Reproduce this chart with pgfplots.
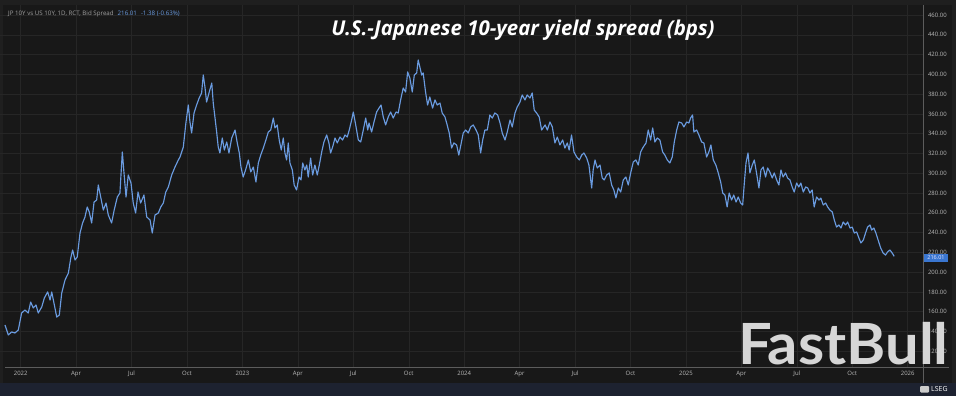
\documentclass[border=0pt]{standalone}
\usepackage{fontspec}
\setmainfont{Open Sans}
\newfontfamily\latofont{Lato}
\usepackage{pgfplots}
\pgfplotsset{compat=1.18}
\definecolor{bgouter}{HTML}{1F1F1F}
\definecolor{bgplot}{HTML}{181818}
\definecolor{gridc}{HTML}{262626}
\definecolor{linec}{HTML}{6A9BE0}
\definecolor{axisc}{HTML}{5C5C5C}
\definecolor{tickc}{HTML}{B8B8B8}
\definecolor{legc}{HTML}{A0A0A0}
\definecolor{navy}{HTML}{1D2230}
\definecolor{wmc}{HTML}{D6D6D6}
\definecolor{boxblue}{HTML}{3A76D0}
\begin{document}
\begin{tikzpicture}[x=1bp,y=1bp]
\useasboundingbox (0,0) rectangle (956,396);
\fill[bgouter] (0,0) rectangle (956,396);
\fill[bgplot] (3,13) rectangle (952,391);
\fill[navy] (0,0) rectangle (956,13);
\begin{axis}[
  at={(0bp,29bp)}, anchor=south west,
  scale only axis, width=923bp, height=362bp,
  xmin=-1.12, xmax=48.83, ymin=104.1, ymax=470.1,
  axis line style={draw=none},
  xtick={0,3,...,48},
  xticklabels={2022,Apr,Jul,Oct,2023,Apr,Jul,Oct,2024,Apr,Jul,Oct,2025,Apr,Jul,Oct,2026},
  ytick={120,140,...,460},
  yticklabel pos=right,
  /pgf/number format/.cd, fixed, fixed zerofill, precision=2, assume math mode=true, /pgfplots/.cd,
  grid=major, major grid style={gridc, line width=0.5pt},
  major tick length=0pt,
  tick label style={font=\fontsize{6}{7}\selectfont, text=tickc},
  yticklabel style={anchor=west, xshift=1.5bp},
  xticklabel style={yshift=-0.5bp},
  clip=true,
]
\addplot[linec, line width=1.15pt, line join=round] coordinates {
(-0.85,146.6)(-0.67,136.5)(-0.49,139.5)(-0.31,138.5)(-0.13,141.5)(0.05,158.7)(0.23,161.7)(0.41,158.7)
(0.54,169.8)(0.68,163.8)(0.83,166.8)(0.95,158.7)(1.14,164.8)(1.28,173.9)(1.46,180.0)(1.59,171.8)
(1.68,180.0)(1.80,168.8)(1.95,154.6)(2.09,156.7)(2.22,178.9)(2.40,192.1)(2.58,199.1)(2.71,214.3)
(2.81,222.4)(2.94,212.3)(3.06,215.3)(3.21,239.6)(3.35,249.7)(3.48,255.8)(3.60,265.9)(3.71,260.8)
(3.84,249.7)(3.97,270.9)(4.11,272.9)(4.20,288.1)(4.33,276.0)(4.47,262.8)(4.62,269.9)(4.74,257.8)
(4.92,249.7)(5.06,262.8)(5.23,276.0)(5.37,280.0)(5.50,321.5)(5.59,300.3)(5.70,276.0)(5.82,298.2)
(5.97,290.1)(6.09,269.9)(6.22,259.8)(6.35,281.0)(6.49,269.9)(6.67,278.0)(6.82,255.8)(7.00,252.7)
(7.12,239.6)(7.27,257.8)(7.45,259.8)(7.58,265.9)(7.72,269.9)(7.85,281.0)(7.99,286.1)(8.17,298.2)
(8.35,306.3)(8.53,313.4)(8.62,316.4)(8.80,326.5)(8.94,350.8)(9.07,369.0)(9.16,351.8)(9.25,340.7)
(9.38,360.9)(9.52,369.0)(9.66,376.1)(9.79,381.1)(9.88,399.3)(9.97,387.2)(10.06,372.0)(10.19,381.1)
(10.34,391.2)(10.42,371.0)(10.51,356.9)(10.61,340.7)(10.69,326.5)(10.78,320.5)(10.91,335.6)(11.02,323.5)
(11.15,331.6)(11.27,320.5)(11.42,335.6)(11.60,343.7)(11.72,330.6)(11.83,320.5)(11.92,306.3)(12.04,296.2)
(12.17,303.3)(12.32,313.4)(12.45,301.3)(12.59,306.3)(12.73,291.1)(12.86,310.4)(12.99,318.4)(13.13,325.5)
(13.27,333.6)(13.40,341.7)(13.53,343.7)(13.67,355.8)(13.76,345.8)(13.88,348.8)(13.99,333.6)(14.10,323.5)
(14.21,335.6)(14.30,320.5)(14.39,313.4)(14.48,330.6)(14.57,310.4)(14.70,303.3)(14.80,288.1)(14.93,283.1)
(15.06,296.2)(15.17,293.2)(15.26,310.4)(15.38,303.3)(15.48,308.3)(15.56,296.2)(15.69,315.4)(15.80,298.2)
(15.92,308.3)(16.05,298.2)(16.16,308.3)(16.29,321.5)(16.41,331.6)(16.56,338.7)(16.68,330.6)(16.77,320.5)
(16.88,326.5)(17.01,335.6)(17.13,330.6)(17.28,336.6)(17.42,333.6)(17.55,338.7)(17.67,336.6)(17.78,343.7)
(17.91,353.8)(18.00,361.9)(18.13,348.8)(18.27,333.6)(18.40,331.6)(18.54,343.7)(18.67,355.8)(18.78,343.7)
(18.85,350.8)(18.99,341.7)(19.12,351.8)(19.26,361.9)(19.39,365.9)(19.50,369.0)(19.62,356.9)(19.75,348.8)
(19.89,356.9)(20.02,361.9)(20.16,355.8)(20.31,361.9)(20.43,360.9)(20.56,374.1)(20.70,386.2)(20.83,382.1)
(20.94,402.4)(21.06,396.3)(21.19,382.1)(21.30,399.3)(21.43,401.4)(21.51,414.5)(21.60,407.4)(21.70,399.3)
(21.78,401.4)(21.91,382.1)(22.02,369.0)(22.14,377.1)(22.29,365.9)(22.42,374.1)(22.54,369.0)(22.69,371.0)
(22.81,360.9)(22.96,356.9)(23.08,348.8)(23.19,340.7)(23.32,325.5)(23.44,330.6)(23.59,328.6)(23.71,318.4)
(23.82,328.6)(23.95,340.7)(24.08,343.7)(24.22,340.7)(24.35,346.8)(24.49,348.8)(24.64,343.7)(24.76,338.7)
(24.89,320.5)(25.00,333.6)(25.12,343.7)(25.25,343.7)(25.39,358.9)(25.52,355.8)(25.66,360.9)(25.81,358.9)
(25.94,350.8)(26.06,340.7)(26.21,333.6)(26.33,341.7)(26.48,353.8)(26.60,346.8)(26.75,360.9)(26.87,367.0)
(27.02,372.0)(27.14,379.1)(27.29,374.1)(27.41,379.1)(27.56,376.1)(27.68,381.1)(27.79,363.9)(27.92,360.9)
(28.06,356.9)(28.19,343.7)(28.38,348.8)(28.50,343.7)(28.64,351.8)(28.77,346.8)(28.91,330.6)(29.04,336.6)
(29.18,328.6)(29.33,333.6)(29.45,325.5)(29.58,330.6)(29.68,323.5)(29.81,338.7)(29.94,321.5)(30.09,316.4)
(30.23,313.4)(30.36,318.4)(30.48,320.5)(30.63,315.4)(30.75,308.3)(30.90,285.1)(30.98,303.3)(31.08,313.4)
(31.20,305.3)(31.35,308.3)(31.47,295.2)(31.58,293.2)(31.71,298.2)(31.85,300.3)(31.98,288.1)(32.10,283.1)
(32.21,275.0)(32.34,285.1)(32.47,281.0)(32.61,293.2)(32.75,296.2)(32.88,288.1)(33.01,300.3)(33.15,311.4)
(33.29,313.4)(33.42,308.3)(33.55,321.5)(33.69,326.5)(33.84,330.6)(33.96,343.7)(34.09,333.6)(34.20,345.8)
(34.32,331.6)(34.45,335.6)(34.59,333.6)(34.74,321.5)(34.86,318.4)(34.99,313.4)(35.13,310.4)(35.26,316.4)
(35.37,331.6)(35.50,343.7)(35.62,351.8)(35.77,350.8)(35.89,346.8)(36.04,351.8)(36.16,350.8)(36.25,355.8)
(36.36,358.9)(36.43,341.7)(36.58,343.7)(36.70,338.7)(36.85,331.6)(36.97,330.6)(37.12,316.4)(37.24,321.5)
(37.35,328.6)(37.48,313.4)(37.62,308.3)(37.75,300.3)(37.88,291.1)(37.99,280.0)(38.11,278.0)(38.23,265.9)
(38.34,280.0)(38.47,272.9)(38.59,278.0)(38.71,270.9)(38.83,276.0)(38.96,269.9)(39.07,267.9)(39.16,290.1)
(39.25,310.4)(39.36,320.5)(39.46,300.3)(39.59,308.3)(39.70,313.4)(39.82,300.3)(39.95,285.1)(40.06,303.3)
(40.18,306.3)(40.31,296.2)(40.42,305.3)(40.54,301.3)(40.67,295.2)(40.78,300.3)(40.91,293.2)(41.03,288.1)
(41.14,303.3)(41.26,296.2)(41.39,300.3)(41.50,295.2)(41.63,293.2)(41.75,286.1)(41.86,281.0)(41.99,290.1)
(42.11,286.1)(42.22,290.1)(42.35,281.0)(42.48,286.1)(42.59,285.1)(42.71,280.0)(42.83,283.1)(42.94,265.9)
(43.07,276.0)(43.20,272.9)(43.30,274.9)(43.43,267.9)(43.56,269.9)(43.67,265.9)(43.79,262.8)(43.92,260.8)
(44.03,252.7)(44.15,245.6)(44.28,247.7)(44.39,244.6)(44.51,250.7)(44.64,247.7)(44.75,250.7)(44.88,244.6)
(45.00,245.6)(45.11,239.6)(45.24,240.6)(45.36,234.5)(45.47,229.5)(45.60,232.5)(45.72,239.6)(45.83,245.6)
(45.96,247.7)(46.05,242.6)(46.17,244.6)(46.28,239.6)(46.40,232.5)(46.54,224.4)(46.67,219.4)(46.80,217.3)
(46.91,220.4)(47.04,222.4)(47.16,219.4)(47.27,216.0)
};
\end{axis}
% axis lines
\draw[axisc, line width=0.6pt] (5,29) -- (949,29);
\draw[axisc, line width=0.6pt] (923,13) -- (923,391);
% price marker
\fill[boxblue] (924,134) rectangle (948,142);
\node[font=\fontsize{5.5}{6}\selectfont, text=white!90!blue, inner sep=0] at (936,138) {216.01};
% legend line
\node[anchor=west, inner sep=0, font=\fontsize{6.2}{7}\selectfont, text=legc] at (8,382)
  {JP 10Y vs US 10Y, 1D, RCT, Bid Spread\hspace{4bp}\textcolor{linec}{216.01}\hspace{4bp}\textcolor{linec}{-1.38 (-0.63\%)}};
% title
\node[font=\fontsize{20.5}{24}\selectfont\bfseries\itshape, text=white, inner sep=0] at (523,366)
  {U.S.-Japanese 10-year yield spread (bps)};
% watermark
\node[anchor=base west, inner sep=0, font=\latofont\bfseries\fontsize{57}{60}\selectfont, text=wmc] at (738,32) {\scalebox{1.05}[1]{FastBull}};
% LSEG
\fill[white!80!black, rounded corners=1bp] (920,3.5) rectangle (929,10);
\node[anchor=west, inner sep=0, font=\fontsize{7}{8}\selectfont, text=white] at (931,6.5) {LSEG};
\end{tikzpicture}
\end{document}
